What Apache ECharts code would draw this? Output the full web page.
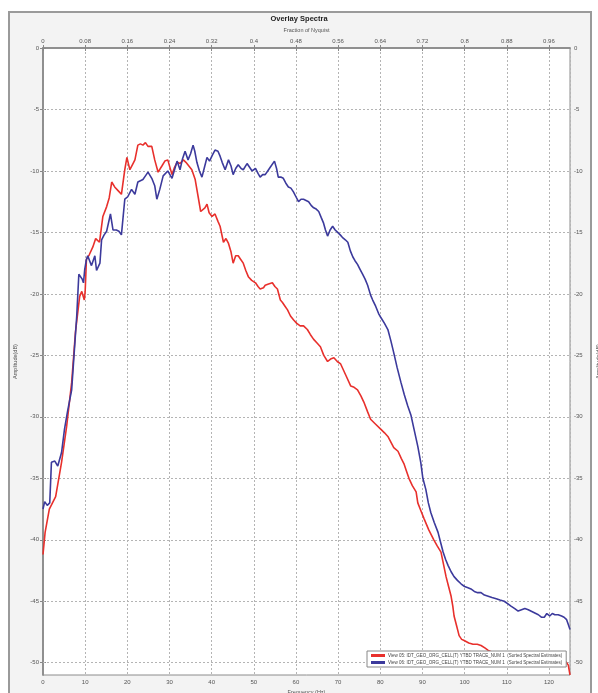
<!DOCTYPE html>
<html>
<head>
<meta charset="utf-8">
<title>Overlay Spectra</title>
<script src="https://cdn.jsdelivr.net/npm/echarts@6/dist/echarts.min.js"></script>
<style>
  html, body { margin: 0; padding: 0; background: #ffffff; }
  #chart { width: 598px; height: 693px; }
</style>
</head>
<body>
<div id="chart"></div>
<script>
// Spectrum of trace 1, view 05 (frequency in Hz, amplitude in dB)
const redFreq = [0, 0.5, 1.5, 3, 4.4, 5.6, 6.8, 7.7, 8.7, 9.2, 9.8, 10.0, 10.3, 11.0, 11.8, 12.5, 13.4, 14.2, 15.1, 15.7,
  16.3, 17.0, 17.8, 18.6, 19.4, 19.9, 20.6, 21.2, 21.8, 22.5, 23.1, 23.7, 24.3, 24.9, 25.8, 26.5, 27.3, 28.2, 28.9, 29.6,
  30.6, 31.2, 31.8, 32.5, 33.3, 33.9, 34.6, 35.3, 36.1, 36.8, 37.4, 38.4, 38.9, 39.4, 40.1, 40.8, 41.5, 42.0, 42.8, 43.4,
  44.0, 44.6, 45.1, 45.7, 46.3, 46.9, 47.5, 48.1, 48.7, 49.5, 50.4, 51.0, 51.5, 52.3, 52.7, 53.5, 54.4, 55.0, 55.6, 56.3,
  56.8, 57.4, 58.0, 58.7, 59.4, 60.2, 61.0, 61.8, 62.7, 63.4, 64.2, 65.0, 65.8, 66.6, 67.5, 68.2, 69.0, 69.8, 70.6, 71.8,
  73.0, 73.8, 74.6, 75.4, 76.1, 77.0, 77.7, 78.9, 80.1, 81.0, 81.8, 83.2, 84.2, 85.0, 85.6, 86.2, 86.8, 87.6, 88.5, 88.9,
  89.7, 90.4, 91.5, 92.7, 93.5, 94.4, 95.0, 95.6, 96.2, 96.8, 97.2, 97.5, 98.1, 98.7, 99.3, 99.9, 101.0, 102.0, 103.0, 103.9,
  104.8, 105.6, 107.0, 110.0, 114.0, 118.0, 122.0, 124.0, 124.6, 125.0];
const redAmp = [-41.2, -39.4, -37.5, -36.5, -33.7, -30.8, -27.2, -23.1, -20.2, -19.8, -20.5, -19.8, -17.2, -16.8, -16.2, -15.5, -15.8, -13.7, -12.9, -12.2,
  -10.9, -11.3, -11.6, -11.9, -9.9, -8.9, -9.9, -9.5, -9.1, -7.9, -7.8, -7.9, -7.7, -8.0, -8.0, -9.1, -10.1, -9.6, -9.2, -9.1,
  -10.3, -9.7, -9.3, -9.4, -9.1, -9.3, -9.6, -9.9, -10.7, -12.1, -13.3, -13.0, -12.7, -13.4, -13.7, -13.5, -14.1, -14.5, -15.8, -15.5,
  -15.9, -16.6, -17.5, -16.9, -16.9, -17.2, -17.5, -18.1, -18.6, -18.9, -19.1, -19.4, -19.6, -19.5, -19.3, -19.2, -19.1, -19.4, -19.6, -20.5,
  -20.7, -21.0, -21.3, -21.8, -22.1, -22.4, -22.6, -22.6, -22.9, -23.3, -23.7, -24.0, -24.3, -25.0, -25.5, -25.3, -25.2, -25.5, -25.7, -26.6,
  -27.5, -27.6, -27.8, -28.3, -28.8, -29.6, -30.2, -30.6, -31.0, -31.3, -31.6, -32.5, -32.8, -33.4, -33.8, -34.4, -35.0, -35.6, -36.1, -37.0,
  -37.7, -38.3, -39.2, -40.0, -40.5, -41.0, -42.0, -43.0, -43.8, -44.6, -45.4, -46.2, -47.0, -47.8, -48.1, -48.2, -48.4, -48.5, -48.5, -48.6,
  -48.8, -49.0, -49.2, -49.3, -49.5, -49.6, -49.8, -49.9, -50.2, -51.0];

// Spectrum of trace 1, view 06 (frequency in Hz, amplitude in dB)
const blueFreq = [0, 0.4, 1.0, 1.6, 2.0, 2.8, 3.5, 4.4, 5.1, 5.8, 6.8, 7.3, 8.0, 8.5, 8.7, 9.3, 9.6, 9.9, 10.3, 10.6,
  11.5, 12.3, 12.7, 13.5, 13.9, 14.5, 15.1, 16.0, 16.6, 17.4, 18.0, 18.6, 19.4, 20.1, 21.0, 21.8, 22.5, 23.1, 23.7, 24.3,
  24.9, 25.8, 26.5, 27.0, 27.7, 28.5, 29.6, 30.6, 31.2, 31.8, 32.5, 33.1, 33.7, 34.4, 35.0, 35.6, 36.0, 36.5, 37.1, 37.7,
  38.3, 38.9, 39.5, 40.2, 40.8, 41.5, 42.0, 42.5, 43.2, 44.0, 44.6, 45.1, 45.7, 46.3, 47.0, 47.5, 48.4, 49.0, 49.6, 50.4,
  51.0, 51.5, 52.1, 52.7, 53.3, 53.9, 54.9, 55.4, 55.8, 56.4, 57.0, 57.6, 58.2, 58.8, 59.4, 60.0, 60.6, 61.2, 61.8, 62.4,
  63.0, 63.6, 64.2, 64.8, 65.4, 66.0, 66.5, 67.0, 67.5, 68.1, 68.7, 69.3, 69.9, 70.5, 71.0, 71.7, 72.3, 72.9, 73.5, 74.0,
  74.6, 75.2, 75.8, 76.4, 77.0, 77.7, 78.2, 78.9, 79.6, 80.1, 81.0, 81.8, 82.5, 83.2, 84.0, 84.9, 85.7, 86.5, 87.3, 88.0,
  88.9, 89.6, 90.1, 90.8, 91.4, 92.0, 92.8, 93.7, 94.3, 94.9, 95.5, 96.1, 96.8, 97.5, 98.3, 99.2, 100.0, 100.8, 101.5, 102.3,
  103.1, 103.9, 104.7, 105.6, 106.5, 107.5, 108.4, 109.4, 110.2, 111.0, 111.9, 112.7, 113.5, 114.3, 115.1, 116.3, 117.5, 118.2, 118.9, 119.5,
  120.2, 120.8, 121.4, 122.2, 123.0, 123.6, 124.2, 124.6, 125.0];
const blueAmp = [-37.5, -36.9, -37.2, -37.0, -33.7, -33.6, -34.0, -32.9, -31.0, -29.6, -27.8, -25.3, -21.8, -18.4, -18.3, -18.8, -19.1, -18.0, -17.2, -16.9,
  -17.7, -16.9, -18.1, -17.5, -15.6, -15.2, -14.9, -13.5, -14.8, -14.8, -14.9, -15.2, -12.3, -12.1, -11.5, -11.9, -10.9, -10.8, -10.7, -10.4,
  -10.1, -10.6, -11.2, -12.3, -11.5, -10.4, -10.0, -10.6, -9.9, -9.2, -9.9, -9.0, -8.4, -9.1, -8.6, -7.9, -8.4, -9.3, -10.0, -10.5,
  -9.7, -8.9, -9.2, -8.7, -8.3, -8.4, -8.8, -9.3, -9.9, -9.1, -9.6, -10.3, -9.8, -9.5, -9.8, -9.9, -9.4, -9.7, -10.0, -9.8,
  -10.2, -10.5, -10.3, -10.3, -10.0, -9.7, -9.2, -9.8, -10.5, -10.5, -10.6, -11.0, -11.3, -11.4, -11.7, -12.1, -12.5, -12.3, -12.3, -12.4,
  -12.5, -12.8, -13.0, -13.1, -13.3, -13.8, -14.2, -14.8, -15.3, -14.8, -14.5, -14.8, -15.0, -15.2, -15.4, -15.6, -15.8, -16.5, -17.0, -17.3,
  -17.6, -18.0, -18.4, -18.8, -19.3, -20.1, -20.5, -21.0, -21.6, -21.9, -22.4, -22.9, -23.8, -24.8, -26.0, -27.2, -28.2, -29.1, -29.9, -31.0,
  -32.4, -33.7, -35.0, -35.9, -37.0, -37.8, -38.6, -39.4, -40.2, -41.0, -41.6, -42.1, -42.6, -43.0, -43.3, -43.6, -43.8, -43.9, -44.0, -44.2,
  -44.3, -44.3, -44.5, -44.6, -44.7, -44.8, -44.9, -45.0, -45.2, -45.4, -45.6, -45.8, -45.7, -45.6, -45.7, -45.9, -46.1, -46.3, -46.3, -46.0,
  -46.2, -46.0, -46.1, -46.1, -46.2, -46.3, -46.5, -46.9, -47.3];

// Amplitude ticks (dB), the axis runs a little past the last one
const ampTicks = [0, -5, -10, -15, -20, -25, -30, -35, -40, -45, -50];

const seriesNames = [
  'View 05: IDT_GEO_ORG_CELL(T) YTBD TRACE_NUM 1  (Sorted Spectral Estimates)',
  'View 06: IDT_GEO_ORG_CELL(T) YTBD TRACE_NUM 1  (Sorted Spectral Estimates)'
];
const seriesColors = ['#e8302c', '#3c3a9c'];

const FONT = 'Liberation Sans';
const labelStyle = { fontFamily: FONT, fontSize: 6, color: '#555' };
const gridLineStyle = { color: '#b4b4b4', width: 1, type: [2, 2] };
const axisLineStyle = { color: '#8c8c8c', width: 1.5 };

function pairs(xs, ys) { return xs.map((x, i) => [x, ys[i]]); }

function yAxisDef(pos) {
  return {
    type: 'value', position: pos, min: -51, max: 0,
    name: 'Amplitude(dB)', nameLocation: 'middle', nameGap: 25, nameRotate: 90,
    nameTextStyle: { fontFamily: FONT, fontSize: 5.5, color: '#555' },
    axisLine: { show: true, lineStyle: axisLineStyle },
    axisTick: { show: true, length: 3, customValues: ampTicks, lineStyle: { color: '#888' } },
    axisLabel: Object.assign({ margin: 4, customValues: ampTicks }, labelStyle),
    splitLine: { show: false }
  };
}

const chart = echarts.init(document.getElementById('chart'), null, { renderer: 'canvas' });
chart.setOption({
  backgroundColor: '#ffffff',
  animation: false,
  graphic: [{
    type: 'rect', z: -10, silent: true,
    shape: { x: 9, y: 12, width: 582, height: 690 },
    style: { fill: '#f3f3f3', stroke: '#9a9a9a', lineWidth: 2 }
  }],
  title: {
    text: 'Overlay Spectra', left: 'center', top: 10,
    textStyle: { fontFamily: FONT, fontSize: 7.5, fontWeight: 'bold', color: '#222' }
  },
  grid: {
    left: 43, right: 28, top: 48, bottom: 18,
    outerBoundsMode: 'none', containLabel: false,
    show: true, backgroundColor: '#ffffff', borderColor: '#8c8c8c', borderWidth: 1
  },
  legend: {
    show: true, z: 20, orient: 'vertical', left: 367, top: 651,
    backgroundColor: '#ffffff', borderColor: '#888', borderWidth: 1,
    padding: [2, 4, 2, 4], itemGap: 2, itemWidth: 14, itemHeight: 3,
    icon: 'path://M0,0 L14,0 L14,3 L0,3 Z',
    itemStyle: { borderWidth: 0 },
    textStyle: { fontFamily: FONT, fontSize: 4.5, color: '#444', padding: [0, 0, 0, -2] },
    data: seriesNames.map((n, i) => ({ name: n, itemStyle: { color: seriesColors[i], borderWidth: 0 } }))
  },
  xAxis: [{
    type: 'value', position: 'bottom', min: 0, max: 125, interval: 10,
    name: 'Frequency (Hz)', nameLocation: 'middle', nameGap: 14,
    nameTextStyle: { fontFamily: FONT, fontSize: 5.5, color: '#555' },
    axisLine: { show: true, lineStyle: axisLineStyle },
    axisTick: { show: true, length: 3, lineStyle: { color: '#888' } },
    axisLabel: Object.assign({ margin: 4, showMaxLabel: false }, labelStyle),
    splitLine: { show: true, lineStyle: gridLineStyle }
  }, {
    type: 'value', position: 'top', min: 0, max: 1, interval: 0.08,
    name: 'Fraction of Nyquist', nameLocation: 'middle', nameGap: 13,
    nameTextStyle: { fontFamily: FONT, fontSize: 5.5, color: '#555' },
    axisLine: { show: true, lineStyle: axisLineStyle },
    axisTick: { show: true, length: 3, lineStyle: { color: '#888' } },
    axisLabel: Object.assign({ margin: 4, showMaxLabel: false }, labelStyle),
    splitLine: { show: false }
  }],
  yAxis: [yAxisDef('left'), yAxisDef('right')],
  series: [{
    name: seriesNames[0], type: 'line', xAxisIndex: 0, yAxisIndex: 0,
    data: pairs(redFreq, redAmp), showSymbol: false, smooth: false,
    lineStyle: { color: seriesColors[0], width: 1.6 },
    itemStyle: { color: seriesColors[0], borderWidth: 0 },
    // dotted horizontal grid at each amplitude tick, kept under the curves
    markLine: {
      silent: true, z: 1, symbol: 'none', label: { show: false }, animation: false,
      lineStyle: gridLineStyle,
      data: ampTicks.slice(1).map(v => ({ yAxis: v }))
    }
  }, {
    name: seriesNames[1], type: 'line', xAxisIndex: 0, yAxisIndex: 0,
    data: pairs(blueFreq, blueAmp), showSymbol: false, smooth: false,
    lineStyle: { color: seriesColors[1], width: 1.6 },
    itemStyle: { color: seriesColors[1], borderWidth: 0 }
  }]
});
</script>
</body>
</html>
